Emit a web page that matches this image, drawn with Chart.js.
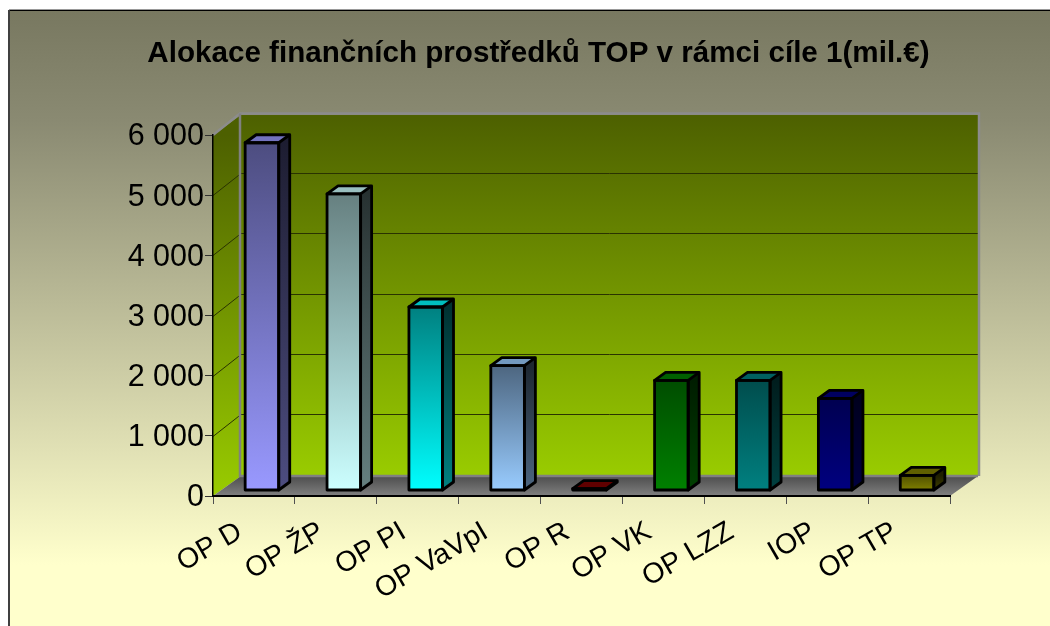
<!DOCTYPE html>
<html><head><meta charset="utf-8">
<style>html,body{margin:0;padding:0;background:#fff}canvas{display:block}</style>
<script src="https://cdn.jsdelivr.net/npm/chart.js@4/dist/chart.umd.js"></script>
</head><body><canvas id="c" width="1050" height="626"></canvas>
<script>
const titleText = 'Alokace finančních prostředků TOP v rámci cíle 1(mil.€)';
const categories = ['OP D','OP ŽP','OP PI','OP VaVpI','OP R','OP VK','OP LZZ','IOP','OP TP'];
const values = [5780,4930,3050,2075,30,1830,1830,1530,250];
const yTicks = [0,1000,2000,3000,4000,5000,6000];
const lightColors = ['#9999ff','#ccffff','#00ffff','#99ccff','#800000','#008000','#008080','#000080','#808000'];
const darkColors  = ['#4d4d80','#668080','#008080','#4d6680','#500000','#004d00','#004d4d','#000050','#505000'];

const wallDepth = {dx:28, dy:-20};
const gridLift = -22;
const barInset = {dx:8, dy:-5.5};
const barDepth = {dx:11, dy:-8};

function rgb(h){return [1,3,5].map(i=>parseInt(h.substr(i,2),16));}
function scale(h,f){const c=rgb(h).map(v=>Math.round(v*f));return `rgb(${c[0]},${c[1]},${c[2]})`;}
function poly(ctx,pts){ctx.beginPath();pts.forEach((p,i)=>i?ctx.lineTo(p[0],p[1]):ctx.moveTo(p[0],p[1]));ctx.closePath();}

const scene = {
  id:'scene',
  beforeDraw(chart){
    const ctx=chart.ctx, {left,right,top,bottom}=chart.chartArea, W=chart.width, H=chart.height;
    ctx.save();
    ctx.fillStyle='#fff';ctx.fillRect(0,0,W,H);
    const bg=ctx.createLinearGradient(0,10,0,565);
    bg.addColorStop(0,'#787860');bg.addColorStop(0.2,'#8a8a72');bg.addColorStop(1,'#ffffcc');
    ctx.fillStyle=bg;ctx.fillRect(9,10,W-9,H-10);
    ctx.fillStyle='#999';ctx.fillRect(9,9,W-9,1);
    ctx.fillStyle='#000';ctx.fillRect(9,10,W-9,1);
    ctx.fillStyle='#404040';ctx.fillRect(8,10,2,H-10);

    const d=wallDepth, bTop=top+d.dy, bBot=bottom+d.dy, bL=left+d.dx, bR=right+d.dx;
    const wg=ctx.createLinearGradient(0,bTop,0,bBot);
    wg.addColorStop(0,'#4d6000');wg.addColorStop(1,'#99cc00');
    ctx.fillStyle=wg;
    ctx.fillRect(bL,bTop,bR-bL,bBot-bTop);
    const sg=ctx.createLinearGradient(0,top,0,bottom);
    sg.addColorStop(0,'#4d6000');sg.addColorStop(1,'#99cc00');
    ctx.fillStyle=sg;
    poly(ctx,[[left,top],[bL,bTop],[bL,bBot],[left,bottom]]);ctx.fill();

    const y=chart.scales.y;
    ctx.strokeStyle='#2a3300';ctx.lineWidth=1;
    y.ticks.forEach((t,i)=>{
      if(i===0||i===y.ticks.length-1)return;
      const p=Math.round(y.getPixelForTick(i))+0.5;
      ctx.beginPath();ctx.moveTo(left,p);ctx.lineTo(bL,p+gridLift);ctx.lineTo(bR,p+gridLift);ctx.stroke();
    });

    const fg=ctx.createLinearGradient(0,bBot,0,bottom);
    fg.addColorStop(0,'#4d4d4d');fg.addColorStop(1,'#808080');
    ctx.fillStyle=fg;
    poly(ctx,[[left,bottom],[bL,bBot],[bR,bBot],[right,bottom]]);ctx.fill();

    ctx.strokeStyle='#8c8c8c';ctx.lineWidth=2.5;ctx.lineJoin='miter';
    ctx.beginPath();ctx.moveTo(left,top);ctx.lineTo(bL-1,bTop-1.5);ctx.lineTo(bR+1,bTop-1.5);ctx.lineTo(bR+1,bBot);ctx.stroke();
    ctx.strokeStyle='#808080';
    ctx.beginPath();ctx.moveTo(bL-1,bTop-1.5);ctx.lineTo(bL-1,bBot);ctx.lineTo(bR,bBot);ctx.stroke();
    ctx.restore();
  },
  beforeDatasetsDraw(chart){
    chart.ctx.save();
    chart.ctx.translate(barInset.dx,barInset.dy);
  },
  afterDatasetsDraw(chart){
    const ctx=chart.ctx, e=barDepth;
    chart.getDatasetMeta(0).data.forEach((b,i)=>{
      const l=b.x-b.width/2, r=b.x+b.width/2, t=b.y, u=b.base;
      const g=ctx.createLinearGradient(0,t,0,u);
      g.addColorStop(0,scale(darkColors[i],.38));g.addColorStop(1,scale(lightColors[i],.5));
      ctx.fillStyle=g;
      poly(ctx,[[r,t],[r+e.dx,t+e.dy],[r+e.dx,u+e.dy],[r,u]]);ctx.fill();
      ctx.fillStyle=scale(lightColors[i],.75);
      poly(ctx,[[l,t],[l+e.dx,t+e.dy],[r+e.dx,t+e.dy],[r,t]]);ctx.fill();
      ctx.strokeStyle='#000';ctx.lineWidth=2.8;ctx.lineJoin='round';
      ctx.strokeRect(l,t,r-l,u-t);
      poly(ctx,[[l,t],[l+e.dx,t+e.dy],[r+e.dx,t+e.dy],[r+e.dx,u+e.dy],[r,u],[r,t]]);ctx.stroke();
      ctx.beginPath();ctx.moveTo(r,t);ctx.lineTo(r+e.dx,t+e.dy);ctx.stroke();
    });
    ctx.restore();
  }
};

new Chart(document.getElementById('c'),{
  type:'bar',
  plugins:[scene],
  data:{labels:categories,datasets:[{
    data:values,
    borderWidth:0,
    clip:false,
    barPercentage:1,
    categoryPercentage:0.41,
    backgroundColor(c){
      const ch=c.chart;
      if(!ch.chartArea||c.raw===undefined)return lightColors[c.dataIndex||0];
      const g=ch.ctx.createLinearGradient(0,ch.scales.y.getPixelForValue(c.raw),0,ch.scales.y.getPixelForValue(0));
      g.addColorStop(0,darkColors[c.dataIndex]);g.addColorStop(1,lightColors[c.dataIndex]);
      return g;
    }
  }]},
  options:{
    responsive:false,animation:false,
    layout:{padding:{left:127,right:100,top:30,bottom:0}},
    plugins:{
      legend:{display:false},tooltip:{enabled:false},
      title:{display:true,text:titleText,color:'#000',
        font:{family:'"Liberation Sans"',size:29.6,weight:'bold',lineHeight:1.2},
        padding:{top:6.2,bottom:63.3}}
    },
    scales:{
      x:{
        afterFit(s){s.height=130;},
        grid:{drawOnChartArea:false,drawTicks:true,tickLength:8,tickColor:'#505050',lineWidth:1},
        border:{display:true,color:'#000',width:2},
        ticks:{minRotation:30,maxRotation:30,color:'#000',padding:11,labelOffset:-14,autoSkip:false,
          font:{family:'"Liberation Sans"',size:28.5}}
      },
      y:{
        min:0,max:6000,
        afterFit(s){s.width=86;},
        afterBuildTicks(s){s.ticks=yTicks.map(v=>({value:v}));},
        grid:{drawOnChartArea:false,drawTicks:true,tickLength:8,tickColor:'#303030',lineWidth:1},
        border:{display:true,color:'#000',width:1.5},
        ticks:{color:'#000',padding:1,labelOffset:2,
          callback:v=>String(v).replace(/\B(?=(\d{3})+$)/g,' '),
          font:{family:'"Liberation Sans"',size:30.5}}
      }
    }
  }
});
</script></body></html>
